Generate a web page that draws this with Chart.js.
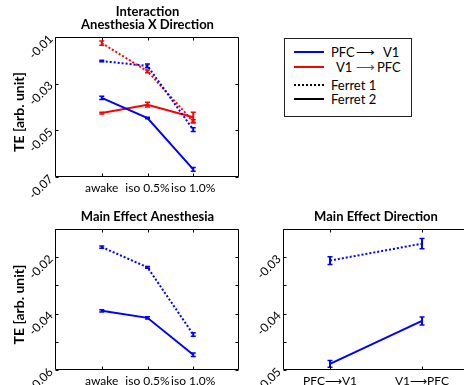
<!DOCTYPE html>
<html><head><meta charset="utf-8">
<script src="https://cdn.jsdelivr.net/npm/chart.js@4.4.1/dist/chart.umd.min.js"></script>
<style>
html,body{margin:0;padding:0;background:#fff;}
body{width:464px;height:385px;overflow:hidden;position:relative;font-family:Lato,sans-serif;}
canvas{position:absolute;}
#legend{position:absolute;left:284px;top:38px;width:128px;height:79px;border:1px solid #222;box-sizing:border-box;font-size:13px;color:#000;}
#legend span{position:absolute;line-height:16px;white-space:nowrap;}
#legend i{position:absolute;width:30px;height:0;left:9px;}
</style></head><body>
<canvas id="c1" width="250" height="200" style="left:0;top:0"></canvas>
<canvas id="c2" width="250" height="185" style="left:0;top:200px"></canvas>
<canvas id="c3" width="230" height="185" style="left:240px;top:200px"></canvas>
<div id="legend"></div>
<script>
// ---------- DATA ----------
const anesthesiaCats = ['awake', 'iso 0.5%', 'iso 1.0%'];
const directionCats = ['PFC\u27F6V1', 'V1\u27F6PFC'];
const directionNames = [['PFC', 'V1'], ['V1', 'PFC']];
const ferretNames = ['Ferret 1', 'Ferret 2'];
const yTitleText = 'TE [arb. unit]';

// Interaction Anesthesia X Direction
const intPfcV1F1 = [-0.0203, -0.0224, -0.0497];
const intPfcV1F1Err = [0.0003, 0.0008, 0.0008];
const intV1PfcF1 = [-0.0126, -0.0247, -0.0462];
const intV1PfcF1Err = [0.0009, 0.0006, 0.0007];
const intPfcV1F2 = [-0.0361, -0.0447, -0.0667];
const intPfcV1F2Err = [0.0007, 0.0003, 0.0008];
const intV1PfcF2 = [-0.0426, -0.0390, -0.0444];
const intV1PfcF2Err = [0.0004, 0.0010, 0.0021];
const intYTicks = [-0.07, -0.06, -0.05, -0.04, -0.03, -0.02, -0.01];
const intYLabels = ['-0.07', '', '-0.05', '', '-0.03', '', '-0.01'];

// Main Effect Anesthesia
const anF1 = [-0.0164, -0.0236, -0.0474];
const anF1Err = [0.0004, 0.0003, 0.0006];
const anF2 = [-0.0390, -0.0415, -0.0546];
const anF2Err = [0.0004, 0.0004, 0.0006];
const anYTicks = [-0.06, -0.05, -0.04, -0.03, -0.02, -0.01];
const anYLabels = ['-0.06', '', '-0.04', '', '-0.02', ''];

// Main Effect Direction
const dirF1 = [-0.0306, -0.0276];
const dirF1Err = [0.0007, 0.0009];
const dirF2 = [-0.0489, -0.0413];
const dirF2Err = [0.0006, 0.0007];
const dirYTicks = [-0.05, -0.045, -0.04, -0.035, -0.03, -0.025];
const dirYLabels = ['-0.05', '', '-0.04', '', '-0.03', ''];

// ---------- STYLE ----------
const BLUE = '#0000ff', RED = '#ff0000';
const FONT = 'Lato, sans-serif';

const decor = {
  id: 'decor',
  afterDatasetsDraw(chart) {
    const {ctx, scales: {x, y}} = chart;
    ctx.save();
    chart.data.datasets.forEach(ds => {
      ctx.strokeStyle = ds.borderColor;
      ds.errors.forEach((e, j) => {
        const p = ds.data[j];
        const px = x.getPixelForValue(p.x);
        const y1 = y.getPixelForValue(p.y - e), y2 = y.getPixelForValue(p.y + e);
        ctx.lineWidth = 2;
        ctx.beginPath(); ctx.moveTo(px, y1); ctx.lineTo(px, y2); ctx.stroke();
        ctx.lineWidth = 1.5;
        ctx.beginPath();
        ctx.moveTo(px - 2.5, y1); ctx.lineTo(px + 2.5, y1);
        ctx.moveTo(px - 2.5, y2); ctx.lineTo(px + 2.5, y2);
        ctx.stroke();
      });
    });
    ctx.restore();
  },
  afterDraw(chart, args, opts) {
    const {ctx, chartArea: a, scales: {x, y}} = chart;
    ctx.save();
    ctx.strokeStyle = '#000';
    ctx.lineWidth = 1;
    const L = Math.round(a.left) - 0.5, R = Math.round(a.right) - 0.5;
    const T = Math.round(a.top) + 0.5, B = Math.round(a.bottom) - 0.5;
    ctx.beginPath();
    ctx.moveTo(L, T); ctx.lineTo(R, T);
    ctx.moveTo(L, B); ctx.lineTo(R, B);
    ctx.moveTo(L, T); ctx.lineTo(L, B);
    if (opts.rightBorder !== false) { ctx.moveTo(R, T); ctx.lineTo(R, B); }
    y.ticks.forEach(t => {
      const py = Math.round(y.getPixelForValue(t.value)) + 0.5;
      ctx.moveTo(L, py); ctx.lineTo(L + 3, py);
      ctx.moveTo(R, py); ctx.lineTo(R - 3, py);
    });
    x.ticks.forEach(t => {
      const px = Math.round(x.getPixelForValue(t.value)) + 0.5;
      ctx.moveTo(px, T); ctx.lineTo(px, T + 3);
      ctx.moveTo(px, B); ctx.lineTo(px, B - 3);
    });
    ctx.stroke();
    ctx.fillStyle = '#000';
    ctx.textAlign = 'center';
    ctx.textBaseline = 'middle';
    // panel title
    const lines = opts.title || [];
    ctx.font = 'bold 13px ' + FONT;
    const cx = (a.left + a.right) / 2;
    lines.forEach((s, k) => {
      ctx.fillText(s, cx, a.top - 12 - (lines.length - 1 - k) * 13);
    });
    // y axis title
    if (opts.yTitle) {
      ctx.font = 'bold 14px ' + FONT;
      ctx.translate(19, (a.top + a.bottom) / 2 + 5);
      ctx.rotate(-Math.PI / 2);
      ctx.fillText(opts.yTitle, 0, 0);
    }
    ctx.restore();
  }
};

function series(vals, errs, color, dotted) {
  return {
    data: vals.map((v, i) => ({x: i + 1, y: v})),
    errors: errs,
    borderColor: color,
    backgroundColor: color,
    borderWidth: 2,
    borderDash: dotted ? [2, 2] : [],
    pointRadius: 0,
    fill: false,
    tension: 0
  };
}

function makeChart(id, cfg) {
  const yScale = {
    type: 'linear',
    min: cfg.yTicks[0], max: cfg.yTicks[cfg.yTicks.length - 1],
    afterBuildTicks: s => { s.ticks = cfg.yTicks.map(v => ({value: v})); },
    afterFit: s => { s.width = cfg.yWidth; },
    grid: {display: false, drawTicks: false},
    border: {display: false},
    ticks: {
      minRotation: 45, maxRotation: 45, padding: 5, color: '#000',
      font: {family: FONT, size: 12},
      callback: (v, i) => cfg.yLabels[i]
    }
  };
  const xScale = {
    type: 'linear',
    min: cfg.xMin, max: cfg.xMax,
    afterBuildTicks: s => { s.ticks = cfg.cats.map((c, i) => ({value: i + 1})); },
    afterFit: s => { s.height = cfg.xHeight; },
    grid: {display: false, drawTicks: false},
    border: {display: false},
    ticks: {
      autoSkip: false, minRotation: 0, maxRotation: 0, padding: 4, color: '#000',
      font: {family: FONT, size: 12},
      callback: (v, i) => cfg.cats[i]
    }
  };
  return new Chart(document.getElementById(id), {
    type: 'line',
    data: {datasets: cfg.datasets},
    options: {
      responsive: false, animation: false, events: [],
      layout: {padding: cfg.padding},
      scales: {x: xScale, y: yScale},
      plugins: {legend: {display: false}, tooltip: {enabled: false},
        decor: {title: cfg.title, rightBorder: cfg.rightBorder, yTitle: cfg.yTitle}}
    },
    plugins: [decor]
  });
}

makeChart('c1', {
  title: ['Interaction', 'Anesthesia X Direction'],
  cats: anesthesiaCats, xMin: 0, xMax: 4,
  yTicks: intYTicks, yLabels: intYLabels, yTitle: yTitleText,
  yWidth: 56, xHeight: 23,
  padding: {left: 0, top: 37, right: 11, bottom: 0},
  datasets: [
    series(intPfcV1F1, intPfcV1F1Err, BLUE, true),
    series(intV1PfcF1, intV1PfcF1Err, RED, true),
    series(intPfcV1F2, intPfcV1F2Err, BLUE, false),
    series(intV1PfcF2, intV1PfcF2Err, RED, false)
  ]
});

makeChart('c2', {
  title: ['Main Effect Anesthesia'],
  cats: anesthesiaCats, xMin: 0, xMax: 4,
  yTicks: anYTicks, yLabels: anYLabels, yTitle: yTitleText,
  yWidth: 56, xHeight: 15,
  padding: {left: 0, top: 29, right: 11, bottom: 0},
  datasets: [
    series(anF1, anF1Err, BLUE, true),
    series(anF2, anF2Err, BLUE, false)
  ]
});

makeChart('c3', {
  title: ['Main Effect Direction'],
  cats: directionCats, xMin: 0.5, xMax: 2.5,
  yTicks: dirYTicks, yLabels: dirYLabels, yTitle: null,
  yWidth: 44, xHeight: 15, rightBorder: false,
  padding: {left: 0, top: 29, right: 2, bottom: 0},
  datasets: [
    series(dirF1, dirF1Err, BLUE, true),
    series(dirF2, dirF2Err, BLUE, false)
  ]
});

// ---------- LEGEND (HTML text) ----------
(function () {
  const lg = document.getElementById('legend');
  const rows = [
    {y: 13, line: '2px solid ' + BLUE, parts: [[directionNames[0][0], 46], ['\u27F6', 71, '#000'], [directionNames[0][1], 98]]},
    {y: 28, line: '2px solid ' + RED, parts: [[directionNames[1][0], 51], ['\u27F6', 71, '#555'], [directionNames[1][1], 92]]},
    {y: 46, line: '2px dotted #000', parts: [[ferretNames[0], 46]]},
    {y: 60, line: '2px solid #000', parts: [[ferretNames[1], 46]]}
  ];
  rows.forEach(r => {
    const ln = document.createElement('i');
    ln.style.top = (r.y - 1) + 'px';
    ln.style.borderTop = r.line;
    lg.appendChild(ln);
    r.parts.forEach(p => {
      const s = document.createElement('span');
      s.textContent = p[0];
      s.style.left = p[1] + 'px';
      s.style.top = (r.y - 8) + 'px';
      if (p[2]) s.style.color = p[2];
      lg.appendChild(s);
    });
  });
})();
</script>
</body></html>
